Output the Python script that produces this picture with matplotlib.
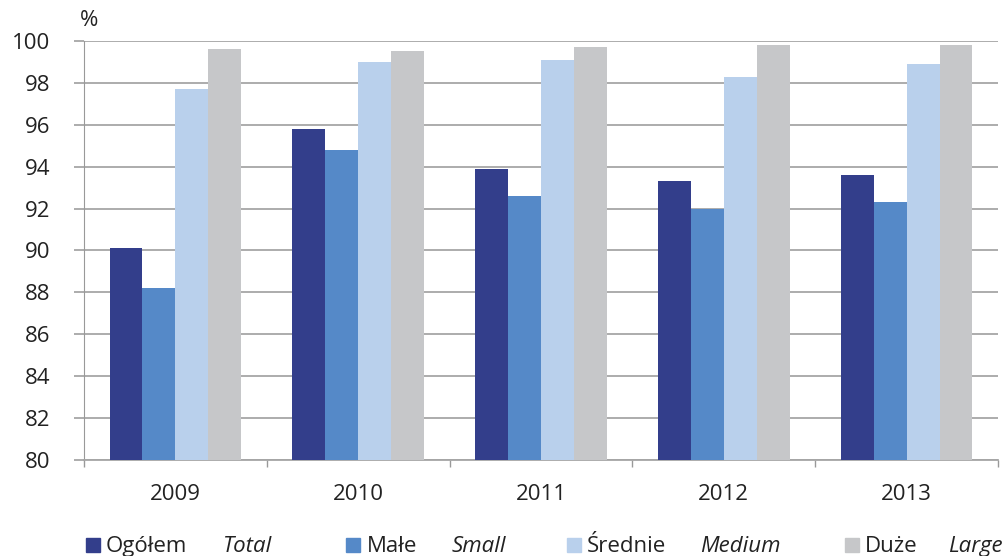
import numpy as np
import matplotlib.pyplot as plt
from matplotlib.patches import Rectangle

plt.rcParams['font.family'] = ['Open Sans', 'DejaVu Sans']

years = ['2009', '2010', '2011', '2012', '2013']
total = [90.1, 95.8, 93.9, 93.3, 93.6]
small = [88.2, 94.8, 92.6, 92.0, 92.3]
medium = [97.7, 99.0, 99.1, 98.3, 98.9]
large = [99.6, 99.5, 99.7, 99.8, 99.8]

names_pl = ['Ogółem', 'Małe', 'Średnie', 'Duże']
names_en = ['Total', 'Small', 'Medium', 'Large']
colors = ['#333e8b', '#5589c8', '#b9d0ec', '#c6c7c9']
series = [total, small, medium, large]

W, H = 1008, 556
fig = plt.figure(figsize=(W / 100, H / 100), dpi=100)
ax = fig.add_axes([84 / W, 1 - 460 / H, 914 / W, 419 / H])

x = np.arange(len(years))
w = 0.18
for i, (vals, c) in enumerate(zip(series, colors)):
    ax.bar(x + (i - 1.5) * w, np.array(vals) - 80, bottom=80, width=w,
           color=c, zorder=3)

ax.set_xlim(-0.5, len(years) - 0.5)
ax.set_ylim(80, 100)
ax.set_yticks(np.arange(80, 101, 2))
ax.set_xticks(x)
ax.set_xticklabels(years)
ax.set_xticks(np.arange(-0.5, len(years), 1), minor=True)
ax.tick_params(axis='x', which='major', length=0, pad=17, labelsize=16,
               labelcolor='#222222')
ax.tick_params(axis='x', which='minor', length=5, width=1, color='#999999',
               direction='out')
ax.tick_params(axis='y', length=7, width=1.3, color='#a6a6a6', labelsize=16,
               pad=17, labelcolor='#222222')
ax.grid(axis='y', color='#a6a6a6', linewidth=1.3, zorder=0)

for side in ['top', 'right']:
    ax.spines[side].set_visible(False)
ax.spines['left'].set_color('#999999')
ax.spines['bottom'].set_color('#a6a6a6')
ax.spines['bottom'].set_linewidth(1.3)

fig.text(80 / W, 1 - 21 / H, '%', fontsize=16, ha='left', va='center',
         color='#222222')

# legend built by hand: Polish label plus italic English label
sq_x = [86, 346, 567, 845]
pl_x = [106, 367, 587, 865]
en_x = [223, 452, 700, 948]
base = 552
for c, pl, en, sx, px, ex in zip(colors, names_pl, names_en, sq_x, pl_x, en_x):
    fig.patches.append(Rectangle((sx / W, 1 - 552 / H), 14 / W, 14 / H,
                                 transform=fig.transFigure, color=c))
    fig.text(px / W, 1 - base / H, pl, fontsize=16, va='baseline', ha='left',
             color='#222222')
    fig.text(ex / W, 1 - base / H, en, fontsize=16, va='baseline', ha='left',
             style='italic', color='#222222')

fig.savefig('out.png', dpi=100)
